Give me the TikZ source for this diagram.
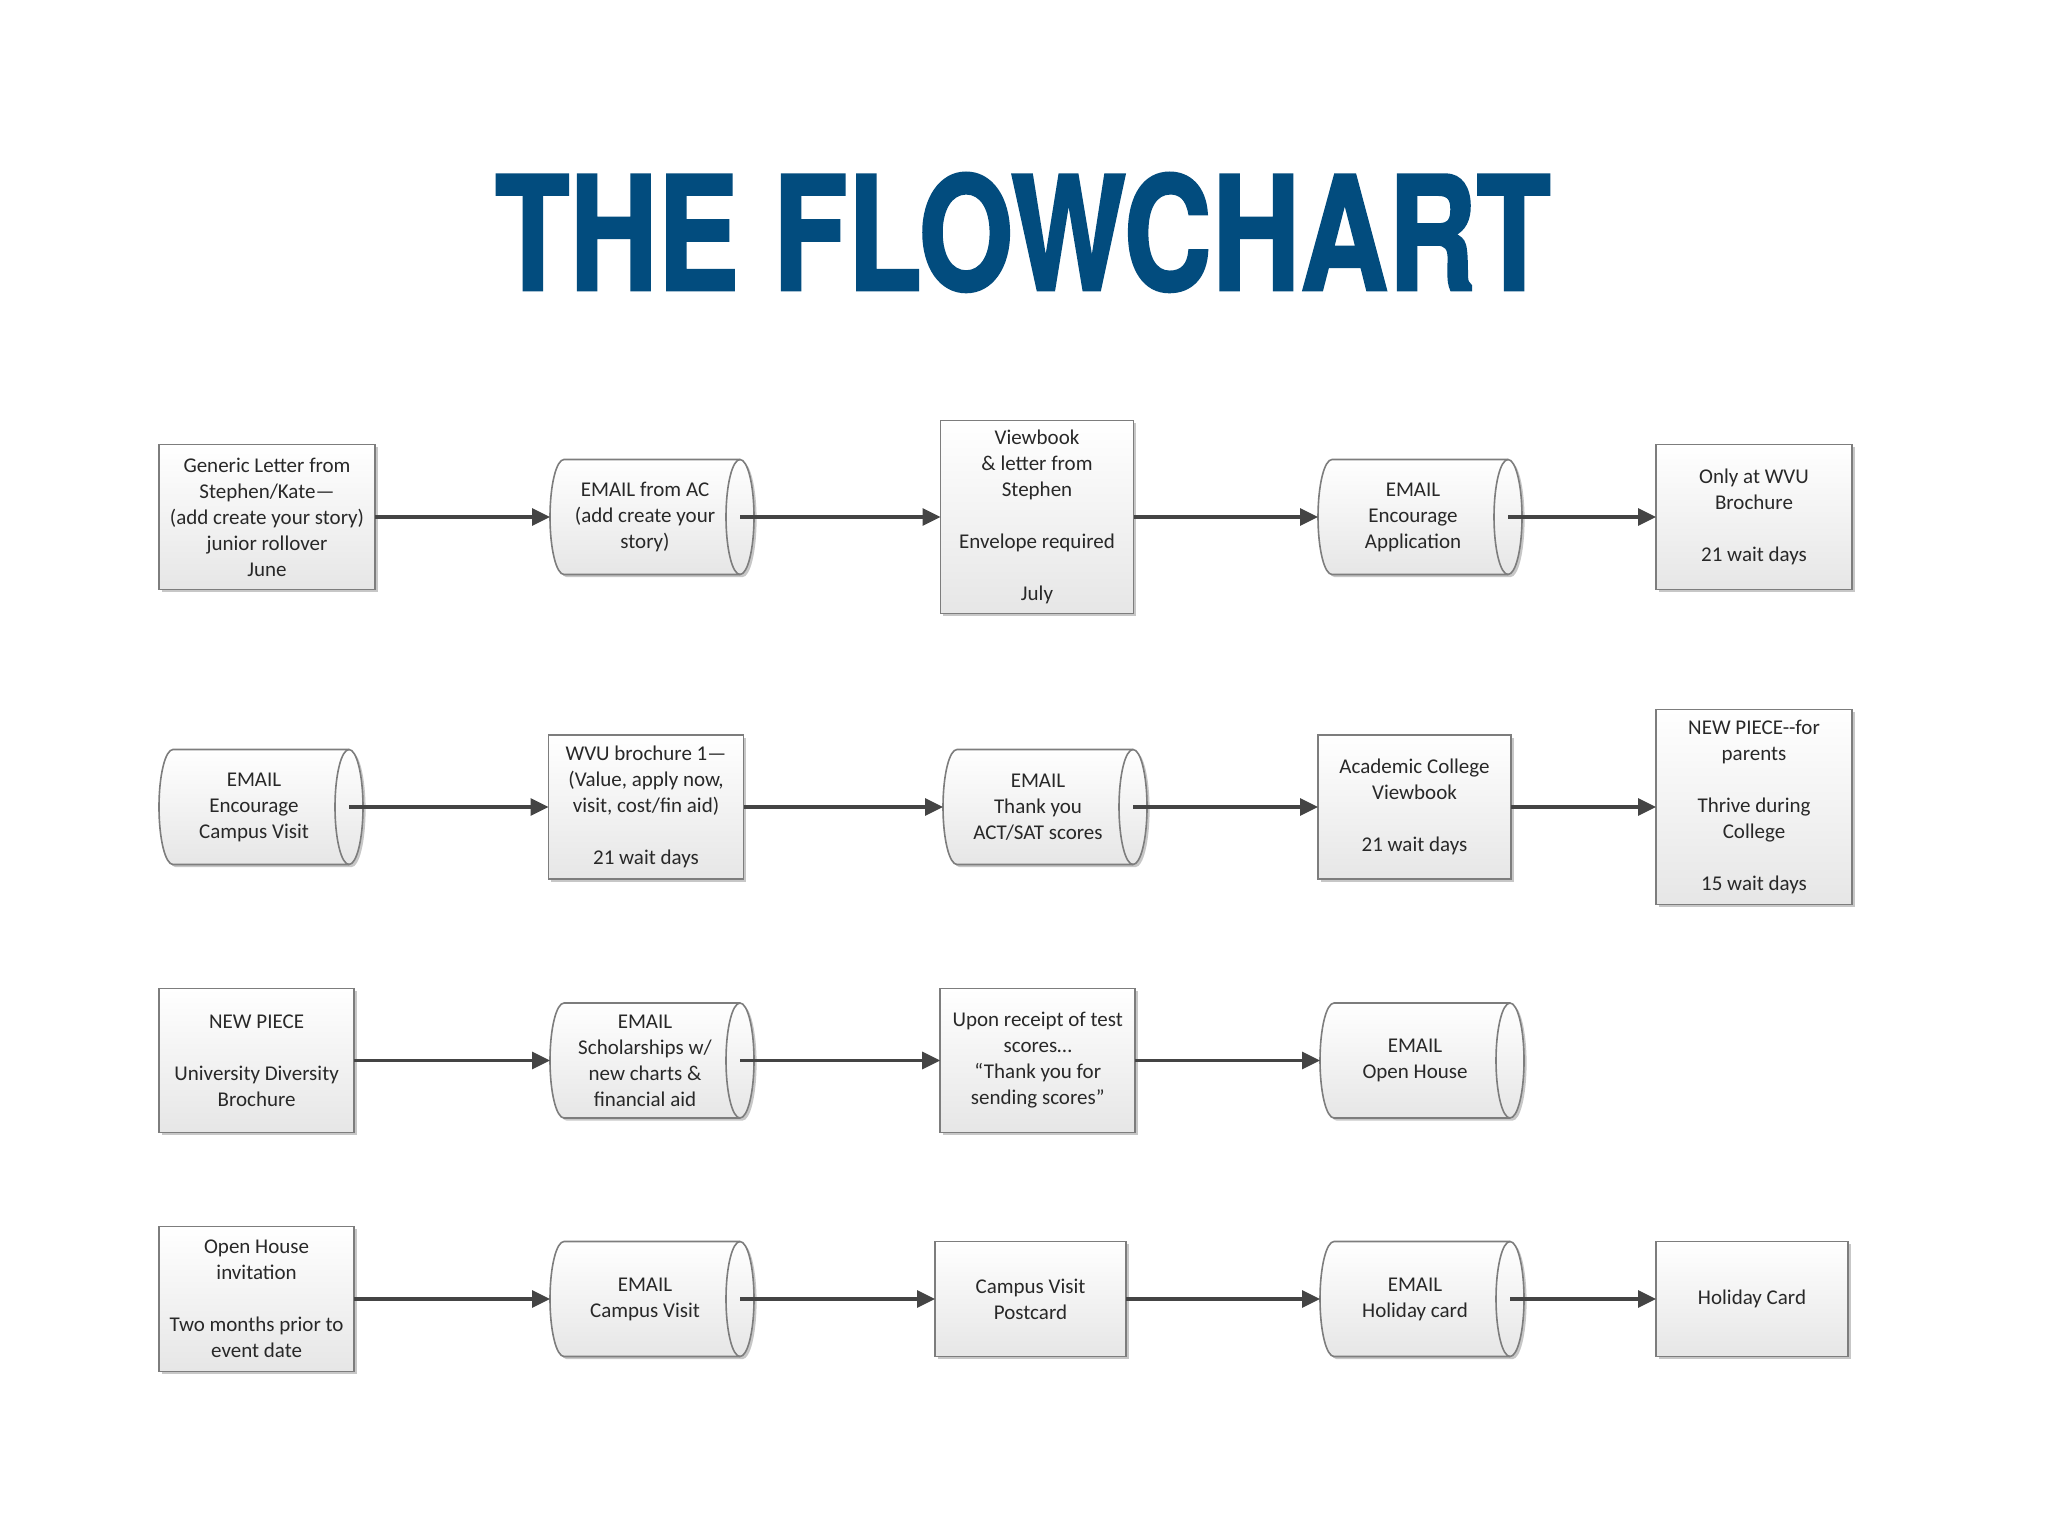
\documentclass[tikz,border=0pt]{standalone}
\usepackage{fontspec}
\setmainfont{Carlito}
\newfontfamily\titlefont{TeX Gyre Heros}[BoldFeatures={FakeBold=1.8}]
\usetikzlibrary{arrows.meta,shadows,calc,backgrounds}
\definecolor{titleblue}{RGB}{2,76,126}
\definecolor{boxline}{RGB}{125,125,125}
\definecolor{arrowgray}{RGB}{68,68,68}
\definecolor{boxbot}{RGB}{230,230,230}
\definecolor{txt}{RGB}{40,40,40}
\tikzset{
  shad/.style={drop shadow={shadow xshift=1.3pt,shadow yshift=-1.3pt,fill=black,opacity=0.22}},
  boxnode/.style={draw=boxline,line width=0.8pt,top color=white,bottom color=boxbot,shad,
    align=center,font=\fontsize{10.5}{13}\selectfont,text=txt,inner sep=0pt,outer sep=0pt},
  cylnode/.style={align=center,font=\fontsize{10.5}{13}\selectfont,text=txt,inner sep=0pt,
    outer sep=0pt,minimum width=95pt,minimum height=57.5pt},
  cylbody/.style={draw=boxline,line width=0.8pt,top color=white,bottom color=boxbot,shad},
  cylline/.style={draw=boxline,line width=0.8pt},
  flow/.style={draw=arrowgray,line width=1.6pt,-{Triangle[length=9pt,width=8.5pt]}},
}
\newcommand\cylbox[4]{%
  \node[cylnode] (#1) at (#2,#3) {#4};
  \begin{scope}[on background layer]
    \path[cylbody] ($(#1.north west)+(7pt,0)$) -- (#1.north east)
      arc[start angle=90,end angle=-90,x radius=7pt,y radius=28.75pt]
      -- ($(#1.south west)+(7pt,0)$)
      arc[start angle=270,end angle=90,x radius=7pt,y radius=28.75pt] -- cycle;
    \draw[cylline] (#1.north east) arc[start angle=90,end angle=270,x radius=7pt,y radius=28.75pt];
  \end{scope}}
\begin{document}
\begin{tikzpicture}[x=0.5pt,y=-0.5pt]
\begin{scope}[on background layer]
  \fill[white] (0,0) rectangle (2048,1536);
\end{scope}
\useasboundingbox (0,0) rectangle (2048,1536);
% title
\node[anchor=base,text=titleblue,inner sep=0pt] (title) at (1023,290)
  {\scalebox{0.772}[1]{\titlefont\bfseries\fontsize{79}{79}\selectfont THE FLOWCHART}};
% row 1
\node[boxnode,minimum width=108pt,minimum height=72.5pt] (a1) at (267,517)
  {Generic Letter from\\Stephen/Kate—\\(add create your story)\\junior rollover\\June};
\cylbox{a2}{645}{517}{EMAIL from AC\\(add create your\\story)}
\node[boxnode,minimum width=96.5pt,minimum height=96.5pt] (a3) at (1037,517)
  {Viewbook\\\& letter from\\Stephen\\[13pt]Envelope required\\[13pt]July};
\cylbox{a4}{1413}{517}{EMAIL\\Encourage\\Application}
\node[boxnode,minimum width=98pt,minimum height=72.5pt] (a5) at (1754,517)
  {Only at WVU\\Brochure\\[13pt]21 wait days};
% row 2
\cylbox{b1}{254}{807}{EMAIL\\Encourage\\Campus Visit}
\node[boxnode,minimum width=97.5pt,minimum height=72pt] (b2) at (646,807)
  {WVU brochure 1—\\(Value, apply now,\\visit, cost/fin aid)\\[13pt]21 wait days};
\cylbox{b3}{1038}{807}{EMAIL\\Thank you\\ACT/SAT scores}
\node[boxnode,minimum width=96.5pt,minimum height=72pt] (b4) at (1414.5,807)
  {Academic College\\Viewbook\\[13pt]21 wait days};
\node[boxnode,minimum width=98pt,minimum height=97.5pt] (b5) at (1754,807)
  {NEW PIECE-{}-for\\parents\\[13pt]Thrive during\\College\\[13pt]15 wait days};
% row 3
\node[boxnode,minimum width=97.5pt,minimum height=72pt] (c1) at (256.6,1060.5)
  {NEW PIECE\\[13pt]University Diversity\\Brochure};
\cylbox{c2}{645}{1060.5}{EMAIL\\Scholarships w/\\new charts \&\\financial aid}
\node[boxnode,minimum width=97.5pt,minimum height=72pt] (c3) at (1037.7,1060.5)
  {Upon receipt of test\\scores…\\“Thank you for\\sending scores”};
\cylbox{c4}{1415}{1060.5}{EMAIL\\Open House}
% row 4
\node[boxnode,minimum width=97.5pt,minimum height=72.5pt] (d1) at (256.6,1299)
  {Open House\\invitation\\[13pt]Two months prior to\\event date};
\cylbox{d2}{645}{1299}{EMAIL\\Campus Visit}
\node[boxnode,minimum width=95.5pt,minimum height=57.5pt] (d3) at (1030.5,1299)
  {Campus Visit\\Postcard};
\cylbox{d4}{1415}{1299}{EMAIL\\Holiday card}
\node[boxnode,minimum width=96pt,minimum height=57.5pt] (d5) at (1752,1299)
  {Holiday Card};
% connectors
\draw[flow] (a1.east) -- (a2.west);
\draw[flow] (a2.east) -- (a3.west);
\draw[flow] (a3.east) -- (a4.west);
\draw[flow] (a4.east) -- (a5.west);
\draw[flow] (b1.east) -- (b2.west);
\draw[flow] (b2.east) -- (b3.west);
\draw[flow] (b3.east) -- (b4.west);
\draw[flow] (b4.east) -- (b5.west);
\draw[flow] (c1.east) -- (c2.west);
\draw[flow] (c2.east) -- (c3.west);
\draw[flow] (c3.east) -- (c4.west);
\draw[flow] (d1.east) -- (d2.west);
\draw[flow] (d2.east) -- (d3.west);
\draw[flow] (d3.east) -- (d4.west);
\draw[flow] (d4.east) -- (d5.west);
\end{tikzpicture}
\end{document}
